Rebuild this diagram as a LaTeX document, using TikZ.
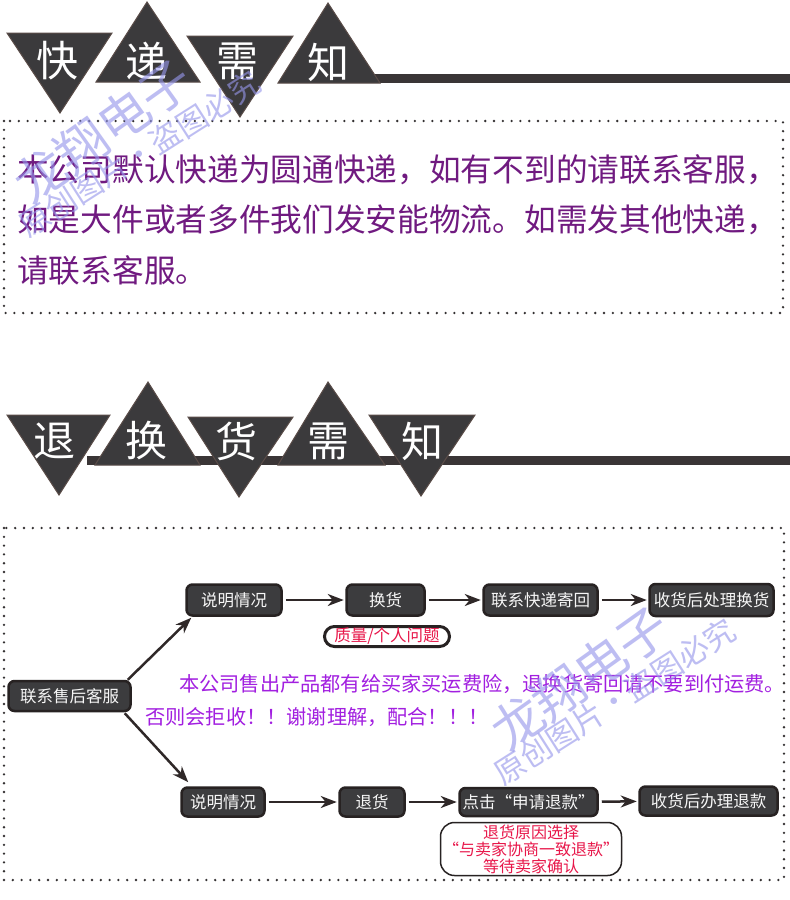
\documentclass[tikz,border=0pt]{standalone}
\usepackage{fontspec}
\setmainfont{Noto Sans CJK SC}
\usetikzlibrary{arrows.meta,calc}
\definecolor{tric}{HTML}{3B3A3C}
\definecolor{triedge}{HTML}{5A4C48}
\definecolor{barc}{HTML}{3A3536}
\definecolor{dotc}{HTML}{333031}
\definecolor{txtA}{HTML}{701A80}
\definecolor{txtB}{HTML}{A21FE0}
\definecolor{boxf}{HTML}{3C3C3E}
\definecolor{boxe}{HTML}{272222}
\definecolor{redt}{HTML}{E8174A}
\definecolor{arrc}{HTML}{2F2828}
\definecolor{wmc}{RGB}{150,150,235}
\begin{document}
\begin{tikzpicture}[x=1pt,y=-1pt,
  tri/.style={fill=tric,draw=triedge,line width=1pt,line join=miter},
  hbar/.style={fill=barc},
  hdr/.style={text=white,font=\fontsize{42}{42}\selectfont,inner sep=0},
  dotbox/.style={draw=dotc,line width=2.6pt,line cap=round,dash pattern=on 0pt off 8.8pt},
  parA/.style={text=txtA,font=\fontsize{31.7}{32}\selectfont,inner sep=0,anchor=west},
  parB/.style={text=txtB,font=\fontsize{20.2}{21}\selectfont,inner sep=0,anchor=west},
  dbox/.style={rectangle,rounded corners=6pt,fill=boxf,draw=boxe,line width=2.5pt,
    text=white!94!gray,font=\fontsize{16.5}{16.5}\selectfont,inner sep=0},
  notebox/.style={rectangle,rounded corners=10pt,fill=white,draw=boxe,line width=3pt,
    text=redt,font=\fontsize{16.5}{16.5}\selectfont,inner sep=0},
  notebig/.style={rectangle,rounded corners=14pt,fill=white,draw=boxe,line width=1.5pt,
    text=redt,font=\fontsize{16}{17}\selectfont,inner sep=0,align=center},
  flow/.style={draw=arrc,line width=2.5pt,-{Stealth[length=16pt,width=12pt,inset=5pt]},
    shorten >=1.5pt,shorten <=3pt},
  wm/.style={text=wmc,opacity=0.62,inner sep=0},
  wmbig/.style={wm,font=\fontsize{51}{51}\selectfont,rotate=35.5},
  wmsmall/.style={wm,font=\fontsize{31}{31}\selectfont,rotate=32.5}
]
\useasboundingbox[fill=white] (0,0) rectangle (790,900);

% ---------- header 1 ----------
\fill[hbar] (360,74) rectangle (790,83);
\filldraw[tri] (7,33) -- (112,33) -- (60,113) -- cycle;
\filldraw[tri] (96,82) -- (200,82) -- (147,2) -- cycle;
\filldraw[tri] (187,36) -- (293,36) -- (240,117) -- cycle;
\filldraw[tri] (278,83) -- (380,83) -- (328,3) -- cycle;
\node[hdr] (h1a) at (57.5,61) {快};
\node[hdr] (h1b) at (146.5,61) {递};
\node[hdr] (h1c) at (237.5,61.5) {需};
\node[hdr] (h1d) at (328,62) {知};

% ---------- box 1 ----------
\draw[dotbox] (4,121) rectangle (783,313);
\node[parA] (p1) at (17,170) {本公司默认快递为圆通快递，如有不到的请联系客服，};
\node[parA] (p2) at (17,220) {如是大件或者多件我们发安能物流。如需发其他快递，};
\node[parA] (p3) at (17,270) {请联系客服。};

% ---------- header 2 ----------
\fill[hbar] (87,456) rectangle (790,465);
\filldraw[tri] (7,415) -- (110,415) -- (59,495) -- cycle;
\filldraw[tri] (95,465) -- (200,465) -- (148,382) -- cycle;
\filldraw[tri] (188,417) -- (293,417) -- (239,497) -- cycle;
\filldraw[tri] (278,465) -- (385,465) -- (328,382) -- cycle;
\filldraw[tri] (369,415) -- (475,415) -- (421,496) -- cycle;
\node[hdr] (h2a) at (55,441) {退};
\node[hdr] (h2b) at (146.5,441) {换};
\node[hdr] (h2c) at (236.5,441) {货};
\node[hdr] (h2d) at (328,441) {需};
\node[hdr] (h2e) at (422,441) {知};

% ---------- box 2 ----------
\draw[dotbox] (4,528) rectangle (784,880);

\node[dbox,minimum width=122,minimum height=30] (kf) at (69.5,696) {联系售后客服};
\node[dbox,minimum width=95,minimum height=31] (sm1) at (234,600) {说明情况};
\node[dbox,minimum width=78,minimum height=31] (hh) at (385.5,600) {换货};
\node[dbox,minimum width=114,minimum height=31] (lx) at (540.5,600) {联系快递寄回};
\node[dbox,minimum width=124,minimum height=32] (sh1) at (711.5,600) {收货后处理换货};
\node[notebox,minimum width=125,minimum height=20] (n1) at (387,636.5) {质量/个人问题};

\node[dbox,minimum width=83,minimum height=29] (sm2) at (223,802) {说明情况};
\node[dbox,minimum width=65,minimum height=29] (tk) at (372,802) {退货};
\node[dbox,minimum width=138,minimum height=28] (dj) at (528.5,802) {点击“申请退款”};
\node[dbox,minimum width=138,minimum height=29] (sh2) at (708.5,801) {收货后办理退款};
\node[notebig,minimum width=181,minimum height=53] (n2) at (531,849)
  {退货原因选择\\“与卖家协商一致退款”\\等待卖家确认};

\node[parB] (q1) at (179,684) {本公司售出产品都有给买家买运费险，退换货寄回请不要到付运费。};
\node[parB] (q2) at (145,717) {否则会拒收！！谢谢理解，配合！！！};

\draw[flow] (sm1) -- (hh);
\draw[flow] (hh) -- (lx);
\draw[flow] (lx) -- (sh1);
\draw[flow] (sm2) -- (tk);
\draw[flow] (tk) -- (dj);
\draw[flow] (dj) -- (sh2);
\draw[flow,shorten <=0pt,shorten >=0pt] ($(kf.north east)+(-4,0)$) -- ($(sm1.south west)+(6,1)$);
\draw[flow,shorten <=0pt,shorten >=0pt] ($(kf.south east)+(-7,1)$) -- ($(sm2.north west)+(8,-4)$);

% ---------- watermarks ----------
\node[wmbig] (wm1a) at (103,131) {龙翔电子};
\node[wmsmall] (wm1b) at (139.5,154) {原创图片・盗图必究};
\node[wmbig] (wm2a) at (580,678) {龙翔电子};
\node[wmsmall] (wm2b) at (614.5,701.5) {原创图片・盗图必究};
\end{tikzpicture}
\end{document}
